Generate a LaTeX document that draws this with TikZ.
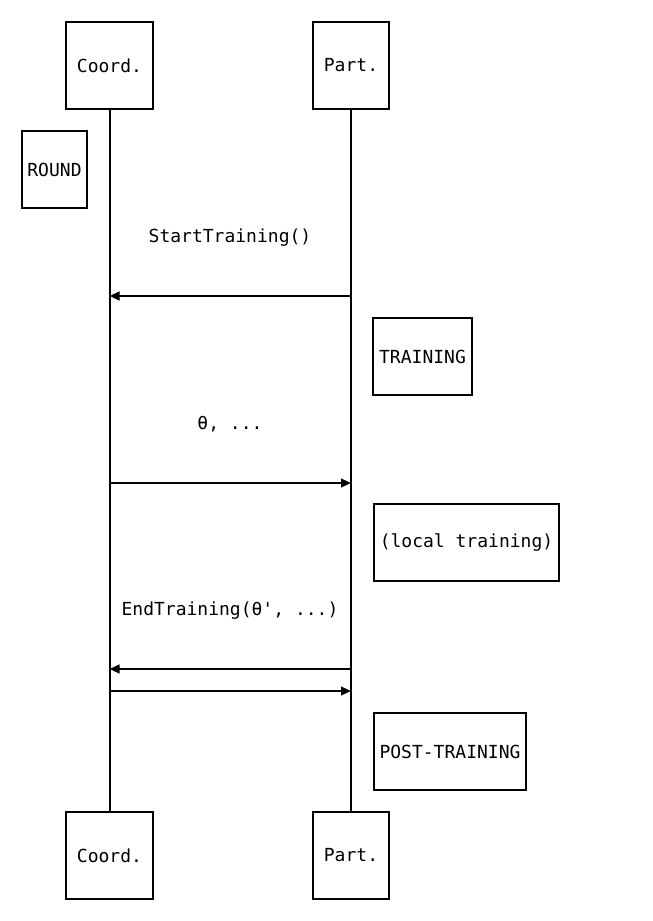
\documentclass[tikz,border=0pt]{standalone}
\usepackage{fontspec}
\setmonofont{DejaVu Sans Mono}
\usepackage{tikz}
\usetikzlibrary{arrows.meta,positioning}

\begin{document}
\begin{tikzpicture}[
    x=0.75pt, y=-0.75pt,
    every node/.style={font=\ttfamily\fontsize{13.5pt}{16pt}\selectfont},
    actor/.style={draw, line width=1.5pt, inner xsep=8.2pt, minimum height=65.25pt},
    note/.style={draw, line width=1.5pt, inner xsep=4.4pt, minimum height=57.75pt},
    life/.style={line width=1.5pt},
    msg/.style={-{Triangle[length=7.5pt,width=6.5pt]}, line width=1.5pt}
]
\useasboundingbox (0,0) rectangle (653,921);

% lifeline heads and feet
\node[actor] (coordtop) at (109.5,65.5)  {Coord.};
\node[actor] (parttop)  at (351,65.5)    {Part.};
\node[actor] (coordbot) at (109.5,855.5) {Coord.};
\node[actor] (partbot)  at (351,855.5)   {Part.};

\draw[life] (coordtop) -- (coordbot);
\draw[life] (parttop)  -- (partbot);

% phase notes
\node[note] (round)    at (54.5,169.5)  {ROUND};
\node[note] (training) at (422.5,356.5) {TRAINING};
\node[note] (local)    at (466.5,542.5) {(local training)};
\node[note] (post)     at (450,751.5)   {POST-TRAINING};

% message ends on the lifelines
\coordinate (c1) at (109.5,296);
\coordinate (p1) at (351,296);
\coordinate (c2) at (109.5,483);
\coordinate (p2) at (351,483);
\coordinate (c3) at (109.5,669);
\coordinate (p3) at (351,669);
\coordinate (c4) at (109.5,691);
\coordinate (p4) at (351,691);

\node (start) at (230,238) {StartTraining()};
\node (theta) at (230,424) {θ, ...};
\node (end)   at (230,611) {EndTraining(θ', ...)};

\draw[msg] (p1) -- (c1);
\draw[msg] (c2) -- (p2);
\draw[msg] (p3) -- (c3);
\draw[msg] (c4) -- (p4);
\end{tikzpicture}
\end{document}
